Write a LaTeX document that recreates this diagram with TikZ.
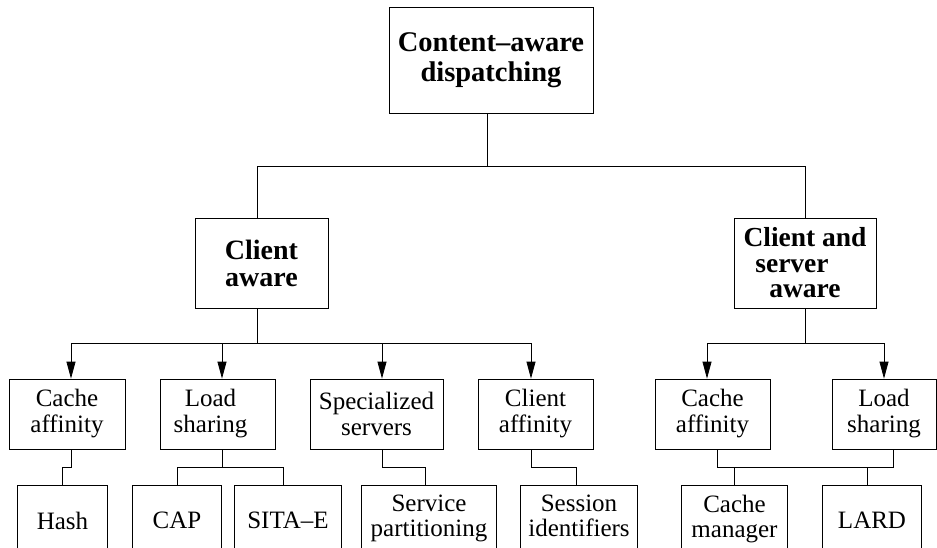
\documentclass[tikz,border=0pt]{standalone}
\usepackage{fontspec}
\setmainfont{Liberation Serif}
\usetikzlibrary{arrows.meta}
\begin{document}
\begin{tikzpicture}[x=1pt,y=-1pt, line width=0.8pt,
  box/.style={draw, rectangle, inner sep=0pt, align=center},
  big/.style={box, font=\fontsize{28.5}{30}\selectfont\bfseries},
  small/.style={box, font=\fontsize{25}{26}\selectfont, minimum height=70pt},
  leaf/.style={rectangle, inner sep=0pt, align=center, font=\fontsize{25}{25}\selectfont},
  arr/.style={-{Triangle[length=17pt,width=9pt]}}]
\useasboundingbox (0,0) rectangle (937,548);
\clip (0,0) rectangle (937,548);
% level 0
\node[big, minimum width=204pt, minimum height=106pt] (top) at (491,60) {Content–aware\\dispatching};
% level 1
\node[big, font=\fontsize{28}{27}\selectfont\bfseries, minimum width=133pt, minimum height=90pt] (ca) at (261.5,263) {Client\\aware};
\node[big, font=\fontsize{27.5}{25.5}\selectfont\bfseries, minimum width=142pt, minimum height=90pt] (csa) at (805,263) {Client and\\\hbox{server\kern26pt}\\aware};
% level 2
\node[small, minimum width=116pt] (c1) at (67,414) {Cache\\affinity};
\node[small, minimum width=115pt] (l1) at (217.5,414) {Load\hspace*{14pt}\\sharing\hspace*{14pt}};
\node[small, minimum width=133pt] (sp) at (376.5,414) {Specialized\\servers};
\node[small, minimum width=115pt] (cf) at (535.5,414) {Client\\affinity};
\node[small, minimum width=115pt] (c2) at (712.5,414) {Cache\\affinity};
\node[small, minimum width=104pt] (l2) at (884,414) {Load\\sharing};
% level 3 (boxes run past the lower edge)
\coordinate (lt) at (0,485);
\coordinate (lb) at (0,570);
\node[leaf, minimum width=89pt] (hash) at (62.5,520.7) {Hash};
\node[leaf, minimum width=88pt] (cap) at (177,520.7) {CAP};
\node[leaf, minimum width=106pt] (sita) at (288,520.7) {SITA–E};
\node[leaf, minimum width=134pt] (serv) at (429,518.7) {Service\\partitioning};
\node[leaf, minimum width=116pt] (sess) at (579,516.2) {Session\\identifiers};
\node[leaf, minimum width=105pt] (cman) at (734.5,518.7) {Cache\\manager};
\node[leaf, minimum width=98pt] (lard) at (872,520.7) {LARD};
\foreach \n in {hash,cap,sita,serv,sess,cman,lard}
  \draw (\n.west |- lt) rectangle (\n.east |- lb);
% connectors level 0 -> 1
\coordinate (j0) at (487,166);
\coordinate (jl) at (257,166);
\coordinate (jr) at (805,166);
\draw (top.south -| j0) -- (j0);
\draw (ca.north -| jl) -- (jl) -- (jr) -- (csa.north -| jr);
% connectors level 1 -> 2
\coordinate (k0) at (257,343);
\coordinate (a1) at (71,343);
\coordinate (a2) at (222,343);
\coordinate (a3) at (382,343);
\coordinate (a4) at (531,343);
\draw (ca.south -| k0) -- (k0);
\draw (a1) -- (a4);
\foreach \a/\n in {a1/c1,a2/l1,a3/sp,a4/cf}
  \draw[arr] (\a) -- (\a |- \n.north);
\coordinate (k1) at (805,343);
\coordinate (b1) at (707,343);
\coordinate (b2) at (884,343);
\draw (csa.south -| k1) -- (k1);
\draw (b1) -- (b2);
\draw[arr] (b1) -- (b1 |- c2.north);
\draw[arr] (b2) -- (b2 |- l2.north);
% connectors level 2 -> 3
\coordinate (m1) at (71,467);
\coordinate (m1b) at (62,467);
\draw (c1.south -| m1) -- (m1) -- (m1b) -- (m1b |- lt);
\coordinate (m2) at (222,467);
\coordinate (m2a) at (177,467);
\coordinate (m2b) at (283,467);
\draw (l1.south -| m2) -- (m2);
\draw (m2a |- lt) -- (m2a) -- (m2b) -- (m2b |- lt);
\coordinate (m3) at (382,467);
\coordinate (m3b) at (425,467);
\draw (sp.south -| m3) -- (m3) -- (m3b) -- (m3b |- lt);
\coordinate (m4) at (531,467);
\coordinate (m4b) at (576,467);
\draw (cf.south -| m4) -- (m4) -- (m4b) -- (m4b |- lt);
\coordinate (m5) at (717,467);
\coordinate (m6) at (893,467);
\coordinate (m5b) at (734,467);
\coordinate (m6b) at (867,467);
\draw (c2.south -| m5) -- (m5) -- (m6) -- (l2.south -| m6);
\draw (m5b) -- (m5b |- lt);
\draw (m6b) -- (m6b |- lt);
\end{tikzpicture}
\end{document}
